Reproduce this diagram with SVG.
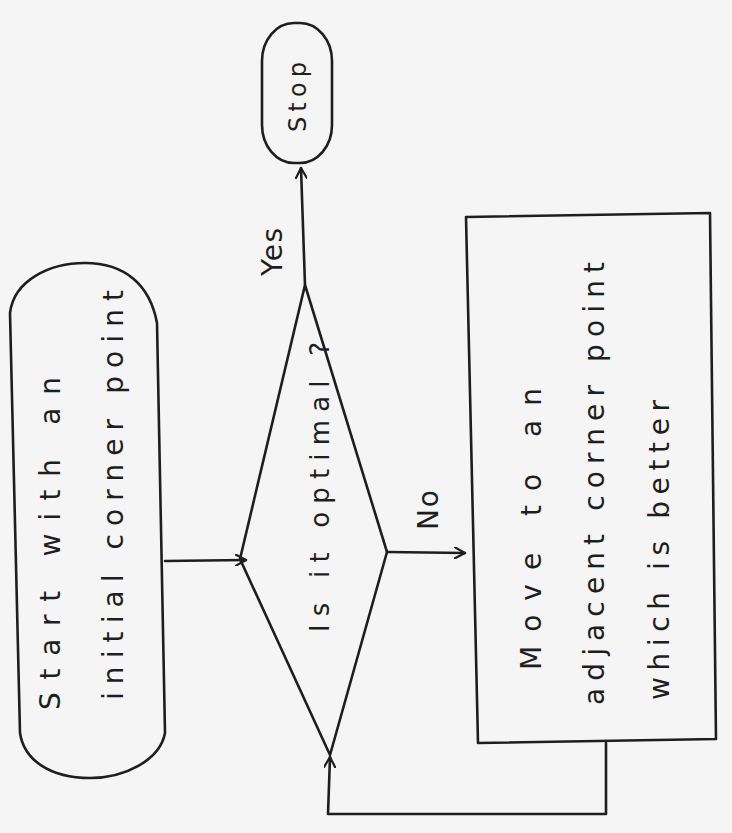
<svg xmlns="http://www.w3.org/2000/svg" width="732" height="833" viewBox="0 0 732 833">
<style>
.shape{fill:none;stroke:#1e1e1e;stroke-width:2.6;stroke-linejoin:round;stroke-linecap:round}
.line{fill:none;stroke:#1e1e1e;stroke-width:2.6;stroke-linecap:round;stroke-linejoin:round}
.t{font-family:"DejaVu Sans","Liberation Sans",sans-serif;font-weight:normal;fill:#1e1e1e;font-size:28px}
</style>
<defs>
<marker id="arr" viewBox="0 0 12 12" refX="11" refY="6" markerWidth="12" markerHeight="12" markerUnits="userSpaceOnUse" orient="auto">
<path d="M0,0 L11,6 L0,12" fill="none" stroke="#1e1e1e" stroke-width="2.2" stroke-linecap="round" stroke-linejoin="round"/>
</marker>
</defs>
<rect x="0" y="0" width="732" height="833" fill="#f5f5f5"/>
<g id="connectors">
<path class="line" d="M165,561 L246,560" marker-end="url(#arr)"/>
<path class="line" d="M305,285 L301,168" marker-end="url(#arr)"/>
<path class="line" d="M387,552 L465,553" marker-end="url(#arr)"/>
<path class="line" d="M606,743 L606,814 L328,814 L330,757" marker-end="url(#arr)"/>
</g>
<g id="start">
<path class="shape" d="M10,313 C14,280 50,263 85,263 C125,263 150,285 157,323 L165,733 C160,760 125,778 90,778 C50,778 24,760 20,733 Z"/>
<text class="t" transform="translate(60,710) rotate(-90)" textLength="333" lengthAdjust="spacing">Start with an</text>
<text class="t" transform="translate(123,700) rotate(-90)" textLength="410" lengthAdjust="spacing">initial corner point</text>
</g>
<g id="decision">
<path class="shape" d="M305,285 L387,552 L330,755 L240,559 Z"/>
<text class="t" style="font-size:26px" transform="translate(329,632) rotate(-90)" textLength="290" lengthAdjust="spacing">Is it optimal ?</text>
</g>
<g id="stop">
<rect class="shape" x="262" y="23" width="70" height="140" rx="32" ry="38"/>
<text class="t" style="font-size:24px" transform="translate(306,132) rotate(-90)" textLength="70" lengthAdjust="spacing">Stop</text>
</g>
<g id="yes-label">
<text class="t" transform="translate(282,276) rotate(-90)" textLength="48" lengthAdjust="spacing">Yes</text>
</g>
<g id="no-label">
<text class="t" transform="translate(438,530) rotate(-90)" textLength="40" lengthAdjust="spacing">No</text>
</g>
<g id="move">
<path class="shape" d="M466,217 L710,213 L716,739 L478,743 Z"/>
<text class="t" transform="translate(541,670) rotate(-90)" textLength="282" lengthAdjust="spacing">Move to an</text>
<text class="t" transform="translate(604,705) rotate(-90)" textLength="443" lengthAdjust="spacing">adjacent corner point</text>
<text class="t" transform="translate(669,700) rotate(-90)" textLength="300" lengthAdjust="spacing">which is better</text>
</g>
</svg>
